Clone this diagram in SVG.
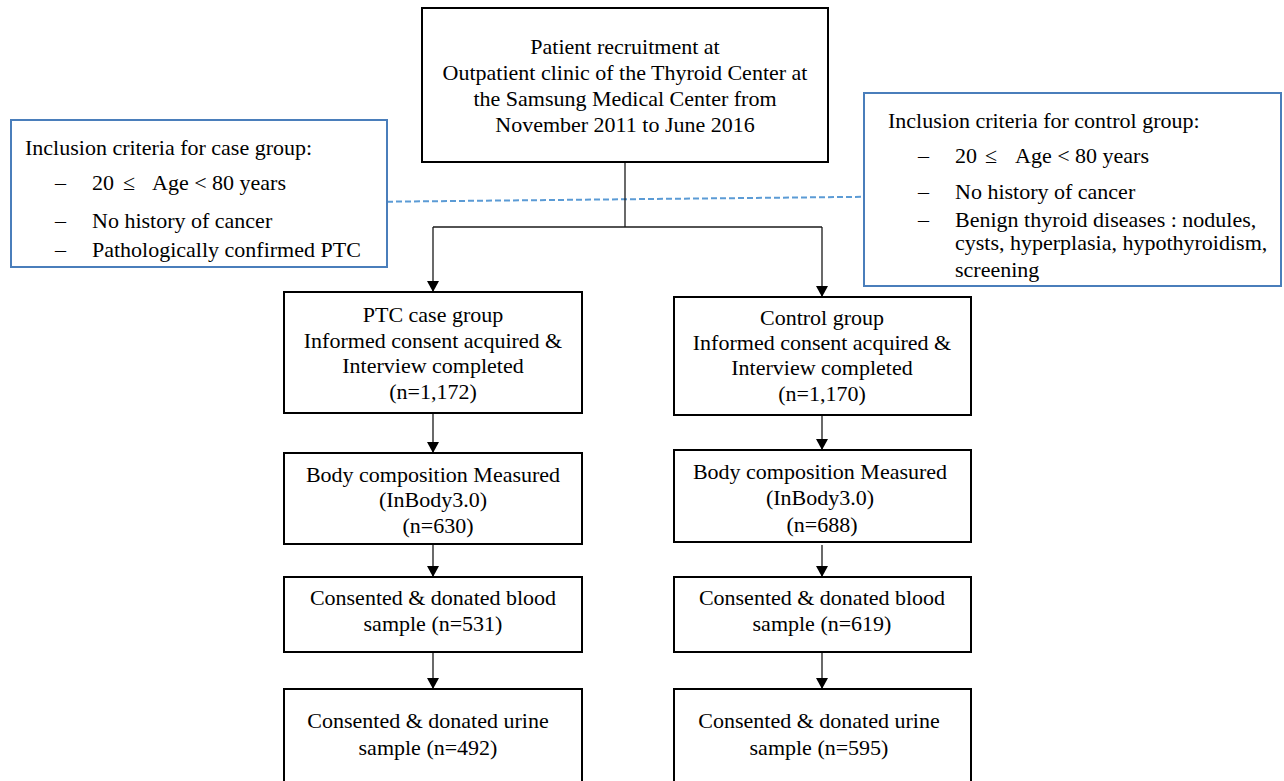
<svg xmlns="http://www.w3.org/2000/svg" width="1284" height="781" viewBox="0 0 1284 781">
<defs>
<style>
text{font-family:"Liberation Serif","Times New Roman",serif;font-size:22px;fill:#000}
.c{text-anchor:middle}
.box{fill:#fff;stroke:#000;stroke-width:2}
.crit{fill:#fff;stroke:#4A7EBB;stroke-width:2}
.ln{fill:none;stroke:#1a1a1a;stroke-width:1.3}
.dash{fill:none;stroke:#5B9BD5;stroke-width:2;stroke-dasharray:6 3}
</style>
<marker id="ah" markerUnits="userSpaceOnUse" markerWidth="12" markerHeight="12" viewBox="0 0 10 11" refX="10" refY="5.5" orient="auto">
<path d="M0,0 L10,5.5 L0,11 z" fill="#000"/>
</marker>
</defs>
<rect width="1284" height="781" fill="#fff"/>

<g id="connectors">
<line class="dash" x1="387" y1="201.7" x2="864" y2="196.8"/>
<polyline class="ln" points="625,162 625,227"/>
<polyline class="ln" points="433,227 822,227"/>
<line class="ln" x1="433" y1="227" x2="433" y2="292" marker-end="url(#ah)"/>
<line class="ln" x1="822" y1="227" x2="822" y2="297" marker-end="url(#ah)"/>
<line class="ln" x1="433" y1="413" x2="433" y2="453" marker-end="url(#ah)"/>
<line class="ln" x1="822" y1="405" x2="822" y2="450" marker-end="url(#ah)"/>
<line class="ln" x1="433" y1="544" x2="433" y2="577" marker-end="url(#ah)"/>
<line class="ln" x1="822" y1="545" x2="822" y2="577" marker-end="url(#ah)"/>
<line class="ln" x1="433" y1="652" x2="433" y2="689" marker-end="url(#ah)"/>
<line class="ln" x1="822" y1="652" x2="822" y2="689" marker-end="url(#ah)"/>
</g>

<g id="recruitment">
<rect class="box" x="422" y="8" width="406" height="154"/>
<text class="c" x="625" y="54">Patient recruitment at</text>
<text class="c" x="625" y="80">Outpatient clinic of the Thyroid Center at</text>
<text class="c" x="625" y="106">the Samsung Medical Center from</text>
<text class="c" x="625" y="132">November 2011 to June 2016</text>
</g>

<g id="case-criteria">
<rect class="crit" x="11" y="120" width="376" height="147"/>
<text x="25" y="155">Inclusion criteria for case group:</text>
<text x="55" y="190">–</text>
<text y="190"><tspan x="92">20</tspan><tspan x="123">≤</tspan><tspan x="152">Age &lt; 80 years</tspan></text>
<text x="55" y="228">–</text>
<text x="92" y="228">No history of cancer</text>
<text x="55" y="257">–</text>
<text x="92" y="257">Pathologically confirmed PTC</text>
</g>

<g id="control-criteria">
<rect class="crit" x="864" y="93" width="417" height="193"/>
<text x="888" y="128">Inclusion criteria for control group:</text>
<text x="918" y="163">–</text>
<text y="163"><tspan x="955">20</tspan><tspan x="985">≤</tspan><tspan x="1015">Age &lt; 80 years</tspan></text>
<text x="918" y="199">–</text>
<text x="955" y="199">No history of cancer</text>
<text x="918" y="227">–</text>
<text x="955" y="227">Benign thyroid diseases : nodules,</text>
<text x="955" y="250">cysts, hyperplasia, hypothyroidism,</text>
<text x="955" y="277">screening</text>
</g>

<g id="ptc-case-group">
<rect class="box" x="284" y="292" width="298" height="121"/>
<text class="c" x="433" y="322">PTC case group</text>
<text class="c" x="433" y="348">Informed consent acquired &amp;</text>
<text class="c" x="433" y="373">Interview completed</text>
<text class="c" x="433" y="399">(n=1,172)</text>
</g>

<g id="control-group">
<rect class="box" x="674" y="297" width="297" height="118"/>
<text class="c" x="822" y="325">Control group</text>
<text class="c" x="822" y="350">Informed consent acquired &amp;</text>
<text class="c" x="822" y="375">Interview completed</text>
<text class="c" x="822" y="401">(n=1,170)</text>
</g>

<g id="case-body">
<rect class="box" x="284" y="453" width="298" height="91"/>
<text class="c" x="433" y="482">Body composition Measured</text>
<text class="c" x="433" y="507">(InBody3.0)</text>
<text class="c" x="438" y="533">(n=630)</text>
</g>

<g id="control-body">
<rect class="box" x="674" y="450" width="297" height="92"/>
<text class="c" x="820" y="479">Body composition Measured</text>
<text class="c" x="820" y="505">(InBody3.0)</text>
<text class="c" x="822" y="532">(n=688)</text>
</g>

<g id="case-blood">
<rect class="box" x="284" y="577" width="298" height="75"/>
<text class="c" x="433" y="605">Consented &amp; donated blood</text>
<text class="c" x="433" y="631">sample (n=531)</text>
</g>

<g id="control-blood">
<rect class="box" x="674" y="577" width="297" height="75"/>
<text class="c" x="822" y="605">Consented &amp; donated blood</text>
<text class="c" x="822" y="631">sample (n=619)</text>
</g>

<g id="case-urine">
<rect class="box" x="284" y="689" width="298" height="110"/>
<text class="c" x="428" y="728">Consented &amp; donated urine</text>
<text class="c" x="428" y="755">sample (n=492)</text>
</g>

<g id="control-urine">
<rect class="box" x="674" y="689" width="297" height="110"/>
<text class="c" x="819" y="728">Consented &amp; donated urine</text>
<text class="c" x="819" y="755">sample (n=595)</text>
</g>
</svg>
